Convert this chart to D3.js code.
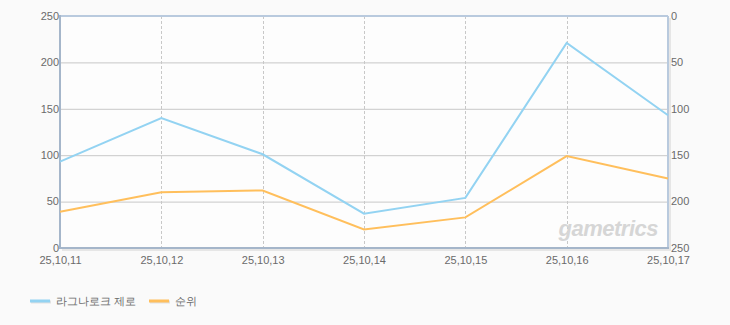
<!DOCTYPE html>
<html>
<head>
<meta charset="utf-8">
<script src="https://cdn.jsdelivr.net/npm/d3@7"></script>
<style>
    body { margin: 0; background: #fafafa; }
    text { font-family: "Liberation Sans", Arial, sans-serif; }
</style>
</head>
<body>
<svg id="chart" width="730" height="325"></svg>
<script>
const dates = ["25,10,11", "25,10,12", "25,10,13", "25,10,14", "25,10,15", "25,10,16", "25,10,17"];
const users = [93, 140, 101, 37, 54, 221, 143];
const ranks = [211, 190, 188, 230, 217, 151, 175];
const leftTicks = [0, 50, 100, 150, 200, 250];
const rightTicks = [0, 50, 100, 150, 200, 250];
const seriesNames = ["라그나로크 제로", "순위"];
const seriesColors = ["#93d3f2", "#ffbf5c"];

const svg = d3.select("#chart");
const margin = { left: 60, right: 62, top: 16, bottom: 77 };
const width = 730 - margin.left - margin.right,
    height = 325 - margin.top - margin.bottom;

const x = d3.scalePoint().domain(dates).range([0, width]);
const yLeft = d3.scaleLinear().domain([0, 250]).range([height, 0]);
const yRight = d3.scaleLinear().domain([0, 250]).range([0, height]);

// shadow of plot frame
svg.append("rect")
    .attr("x", margin.left + 2)
    .attr("y", margin.top + 2)
    .attr("width", width + 1)
    .attr("height", height + 1)
    .attr("fill", "#e6e6e6");

const g = svg.append("g")
    .attr("transform", "translate(" + margin.left + "," + margin.top + ")");

g.append("rect")
    .attr("width", width)
    .attr("height", height)
    .attr("fill", "#fdfdfd");

// horizontal grid
g.selectAll(".hgrid")
    .data(leftTicks.slice(1, -1))
    .enter()
    .append("line")
    .attr("x1", 0)
    .attr("x2", width)
    .attr("y1", d => yLeft(d) + 0.5)
    .attr("y2", d => yLeft(d) + 0.5)
    .attr("stroke", "#c8c8c8");

// vertical dashed grid
g.selectAll(".vgrid")
    .data(dates.slice(1, -1))
    .enter()
    .append("line")
    .attr("x1", d => Math.round(x(d)) + 0.5)
    .attr("x2", d => Math.round(x(d)) + 0.5)
    .attr("y1", 0)
    .attr("y2", height)
    .attr("stroke", "#c8c8c8")
    .attr("stroke-dasharray", "3,2");

// frame
g.append("line").attr("x1", 0).attr("x2", width).attr("y1", 0).attr("y2", 0)
    .attr("stroke", "#b9cade").attr("stroke-width", 2);
g.append("line").attr("x1", width).attr("x2", width).attr("y1", 0).attr("y2", height)
    .attr("stroke", "#b9cade").attr("stroke-width", 2);
g.append("line").attr("x1", 0).attr("x2", width + 1).attr("y1", height).attr("y2", height)
    .attr("stroke", "#a5b6ca").attr("stroke-width", 2);
g.append("line").attr("x1", 0).attr("x2", 0).attr("y1", -1).attr("y2", height + 1)
    .attr("stroke", "#a5b6ca").attr("stroke-width", 2);

// watermark
g.append("text")
    .attr("x", width - 10)
    .attr("y", height - 12)
    .attr("text-anchor", "end")
    .attr("font-size", 22)
    .attr("font-weight", "bold")
    .attr("font-style", "italic")
    .attr("fill", "#d6d6d6")
    .attr("letter-spacing", -0.5)
    .text("gametrics");

// axes
const axisLeft = d3.axisLeft(yLeft).tickValues(leftTicks).tickSize(0).tickPadding(1);
const axisRight = d3.axisRight(yRight).tickValues(rightTicks).tickSize(0).tickPadding(3);
const axisBottom = d3.axisBottom(x).tickSize(0).tickPadding(8);

const styleAxis = sel => {
    sel.select(".domain").remove();
    sel.selectAll("text")
        .attr("fill", "#6a6a6a")
        .attr("font-size", 11)
        .attr("font-family", "Liberation Sans, Arial, sans-serif");
};

g.append("g").call(axisLeft).call(styleAxis)
    .selectAll("text").attr("dy", "0.3em");
g.append("g").attr("transform", "translate(" + width + ",0)").call(axisRight).call(styleAxis)
    .selectAll("text").attr("dy", "0.3em");
g.append("g").attr("transform", "translate(0," + height + ")").call(axisBottom).call(styleAxis);

// lines
const lineLeft = d3.line().x((d, i) => x(dates[i])).y(d => yLeft(d));
const lineRight = d3.line().x((d, i) => x(dates[i])).y(d => yRight(d));

g.append("path")
    .datum(users)
    .attr("d", lineLeft)
    .attr("fill", "none")
    .attr("stroke", seriesColors[0])
    .attr("stroke-width", 2);

g.append("path")
    .datum(ranks)
    .attr("d", lineRight)
    .attr("fill", "none")
    .attr("stroke", seriesColors[1])
    .attr("stroke-width", 2);

// legend
const legendX = [30, 149];
const legend = svg.append("g")
    .selectAll("g")
    .data(seriesNames)
    .enter()
    .append("g")
    .attr("transform", (d, i) => "translate(" + legendX[i] + ",301)");

legend.append("line")
    .attr("x1", 1).attr("x2", 21).attr("y1", 1).attr("y2", 1)
    .attr("stroke", "#e2e2e2").attr("stroke-width", 3);
legend.append("line")
    .attr("x1", 0).attr("x2", 20).attr("y1", 0).attr("y2", 0)
    .attr("stroke", (d, i) => seriesColors[i]).attr("stroke-width", 3);
legend.append("text")
    .attr("x", 26)
    .attr("y", 4)
    .attr("font-size", 11)
    .attr("fill", "#6a6a6a")
    .attr("font-family", "Noto Sans CJK KR, sans-serif")
    .text(d => d);
</script>
</body>
</html>
